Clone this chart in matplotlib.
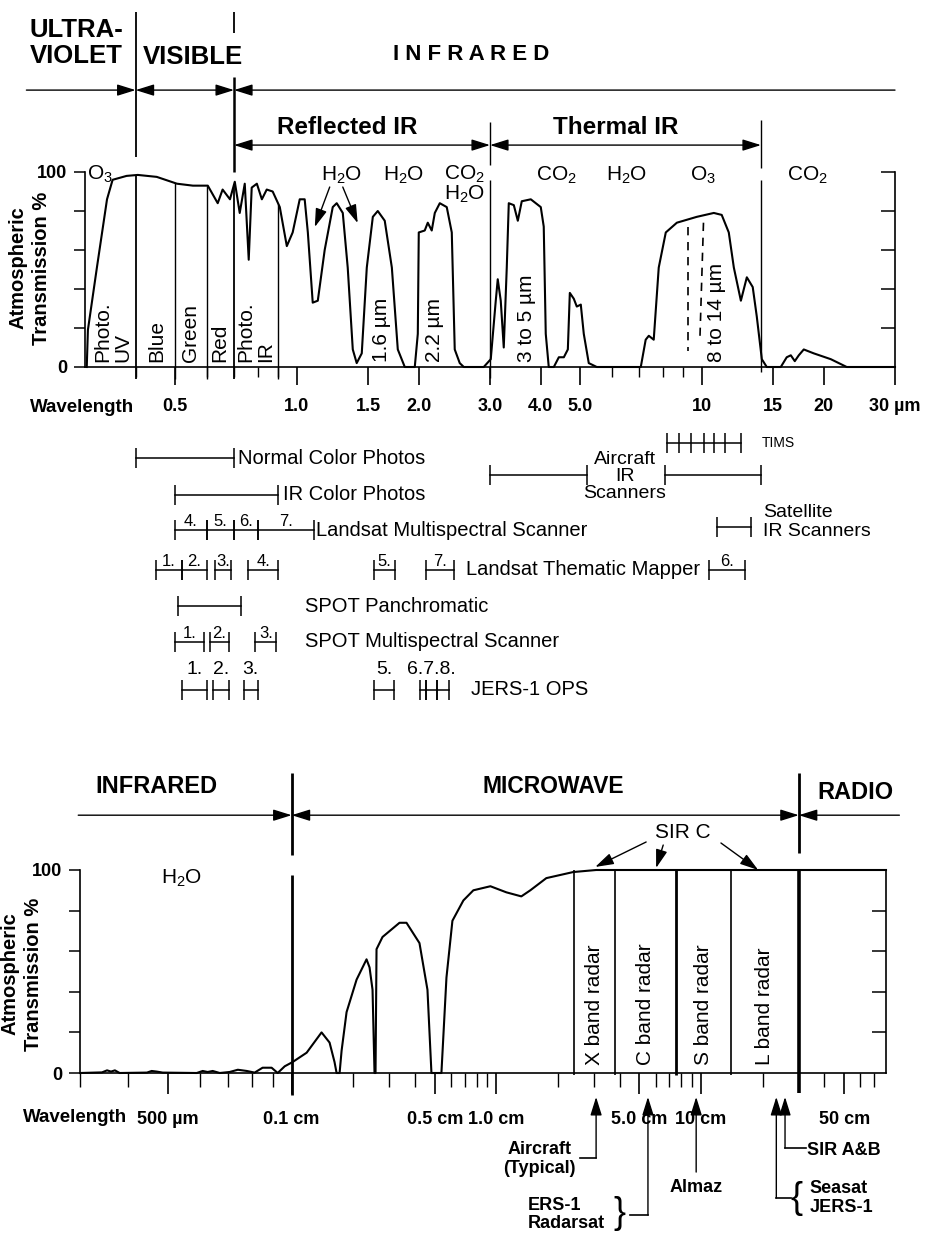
import matplotlib.pyplot as plt
import numpy as np
from matplotlib.ticker import NullFormatter

plt.rcParams['font.family'] = ['Liberation Sans', 'DejaVu Sans']
plt.rcParams['mathtext.fontset'] = 'custom'
plt.rcParams['mathtext.rm'] = 'Liberation Sans'
plt.rcParams['mathtext.it'] = 'Liberation Sans:italic'
plt.rcParams['mathtext.bf'] = 'Liberation Sans:bold'
plt.rcParams['axes.linewidth'] = 1.2

# ---- top panel: transmission curve, wavelength in micrometres
top_wl = [0.303, 0.305, 0.321, 0.340, 0.351, 0.380, 0.405, 0.451, 0.506, 0.554,
          0.603, 0.638, 0.656, 0.684, 0.703, 0.723, 0.744, 0.761, 0.774, 0.797,
          0.820, 0.843, 0.872, 0.908, 0.945, 0.977, 1.017, 1.046, 1.065, 1.095,
          1.127, 1.172, 1.227, 1.255, 1.299, 1.336, 1.375, 1.406, 1.447, 1.489,
          1.541, 1.585, 1.649, 1.717, 1.776, 1.848, 1.956, 1.990, 2.001, 2.070,
          2.106, 2.154, 2.192, 2.255, 2.346, 2.414, 2.455, 2.526, 2.585, 2.895,
          3.013, 3.100, 3.135, 3.189, 3.244, 3.300, 3.338, 3.435, 3.514, 3.594,
          3.783, 4.004, 4.072, 4.119, 4.190, 4.312, 4.437, 4.565, 4.670, 4.723,
          4.831, 4.914, 5.027, 5.113, 5.260, 5.505, 7.07, 7.27, 7.40, 7.61,
          7.83, 8.15, 8.68, 9.72, 10.71, 11.20, 11.66, 12.00, 12.49, 12.92,
          13.36, 13.67, 14.07, 14.47, 15.67, 16.21, 16.59, 16.97, 17.36, 17.86,
          18.90, 20.83, 22.80, 25.1, 30.0]
top_trans = [0, 19, 51, 86, 96, 98, 98.5, 97.5, 94, 93,
             93, 84, 91, 86, 95, 79, 94, 55, 92, 94,
             86, 91, 90, 82, 62, 69, 86, 86, 69, 33,
             34, 60, 82, 84, 79, 51, 9, 2, 7, 51,
             77, 80, 75, 51, 9, 0, 0, 17, 69, 70,
             74, 70, 79, 84, 82, 69, 9, 2, 0, 0,
             4, 34, 45, 34, 10, 51, 84, 83, 75, 85,
             86, 82, 72, 17, 0, 0, 5, 5, 9, 38,
             35, 31, 32, 17, 2, 0, 0, 14, 16, 14,
             51, 69, 74, 77, 79, 78, 69, 51, 34, 46,
             41, 26, 4, 0, 0, 5, 6, 3, 6, 9,
             7, 4, 0, 0, 0]

# ---- bottom panel: transmission curve, wavelength in cm
bot_cm = [0.0306, 0.0346, 0.0356, 0.0364, 0.0372, 0.0382, 0.0445, 0.0457, 0.0470, 0.0486,
          0.0588, 0.0608, 0.0625, 0.0643, 0.0669, 0.0707, 0.0740, 0.0778, 0.0813, 0.0850,
          0.0894, 0.0925, 0.0962, 0.1011, 0.1184, 0.140, 0.1532, 0.162, 0.1658, 0.1715,
          0.1754, 0.1855, 0.2076, 0.2322, 0.2402, 0.2484, 0.254, 0.2569, 0.2598, 0.2779,
          0.3364, 0.3639, 0.4211, 0.4607, 0.4818, 0.539, 0.5704, 0.610, 0.690, 0.772,
          0.935, 1.119, 1.324, 1.465, 1.754, 2.375, 3.074, 80]
bot_trans = [0, 0.3, 1.3, 0.7, 1.3, 0, 0.2, 1.0, 0.7, 0.2,
             0, 1.0, 0.5, 1.0, 0, 0.5, 1.6, 1.0, 0.2, 2.6,
             2.6, 0, 3.3, 5.4, 10, 20, 15, 5.4, 0, 0,
             11, 30, 46, 56, 52, 41, 0, 0, 61, 67,
             74, 74, 64, 41, 0, 0, 47, 75, 85, 90,
             92, 89, 87, 90, 96, 99, 100, 100]

# ---- top panel labels
top_major = [0.5, 1.0, 1.5, 2.0, 3.0, 4.0, 5.0, 10, 15, 20, 30]
top_major_labels = ['0.5', '1.0', '1.5', '2.0', '3.0', '4.0', '5.0', '10', '15', '20', '30 µm']
top_minor = [0.4, 0.6, 0.7, 0.8, 0.9, 6, 7, 8, 9]
y_ticks = [0, 20, 40, 60, 80, 100]
y_labels = ['0', '', '', '', '', '100']

visible_edges = [0.4, 0.5, 0.6, 0.7, 0.9]
visible_names = ['Photo.\nUV', 'Blue', 'Green', 'Red', 'Photo.\nIR']
visible_name_wl = [0.351, 0.45, 0.545, 0.645, 0.79]
window_names = ['1.6 µm', '2.2 µm', '3 to 5 µm', '8 to 14 µm']
window_wl = [1.62, 2.19, 3.7, 10.9]
gas_names = ['H$_2$O', 'H$_2$O', 'CO$_2$\nH$_2$O', 'CO$_2$', 'H$_2$O', 'O$_3$', 'CO$_2$']
gas_wl = [1.29, 1.84, 2.6, 4.38, 6.54, 10.06, 18.2]
dashed_wl = [9.23, 9.9]

# ---- sensors under the top panel
sensor_names = ['Normal Color Photos', 'IR Color Photos', 'Landsat Multispectral Scanner',
                'Landsat Thematic Mapper', 'SPOT Panchromatic', 'SPOT Multispectral Scanner',
                'JERS-1 OPS']
sensor_bands = [[(0.4, 0.7)],
                [(0.5, 0.9)],
                [(0.5, 0.6), (0.6, 0.7), (0.7, 0.8), (0.8, 1.1)],
                [(0.45, 0.52), (0.52, 0.60), (0.63, 0.69), (0.76, 0.90), (1.55, 1.75),
                 (2.08, 2.45), (10.4, 12.8)],
                [(0.51, 0.73)],
                [(0.50, 0.59), (0.61, 0.68), (0.79, 0.89)],
                [(0.52, 0.60), (0.62, 0.68), (0.74, 0.80), (1.55, 1.74), (2.01, 2.09),
                 (2.09, 2.22), (2.22, 2.37)]]
sensor_ids = [[''], [''], ['4.', '5.', '6.', '7.'], ['1.', '2.', '3.', '4.', '5.', '7.', '6.'],
              [''], ['1.', '2.', '3.'], ['1.', '2.', '3.', '5.', '', '6.7.8.', '']]
tims_edges = [8.2, 8.8, 9.4, 10.1, 10.7, 11.4, 12.5]
aircraft_ir_bands = [(3.0, 5.2), (8.1, 14.0)]
satellite_ir_band = (10.9, 13.2)

# ---- bottom panel labels
bot_major = [0.05, 0.1, 0.5, 1.0, 5.0, 10, 50]
bot_major_labels = ['500 µm', '0.1 cm', '0.5 cm', '1.0 cm', '5.0 cm', '10 cm', '50 cm']
bot_minor = [0.0306, 0.04, 0.06, 0.07, 0.08, 0.09, 0.2, 0.3, 0.4, 0.6, 0.7, 0.8, 0.9,
             2, 3, 4, 6, 7, 8, 9, 20, 40, 60, 70]
radar_edges = [2.4, 3.8, 7.5, 14, 30]
radar_names = ['X band radar', 'C band radar', 'S band radar', 'L band radar']
sir_c_cm = [3.04, 6.03, 19.0]
radar_systems = ['Aircraft\n(Typical)', 'ERS-1\nRadarsat', 'Almaz', 'Seasat\nJERS-1', 'SIR A&B']
radar_system_cm = [3.07, 5.5, 9.46, 23.3, 25.7]

SUBMM_STRETCH = 2.01  # the sub-mm part of the lower axis is drawn at twice the scale

W, H = 928, 1234
fig = plt.figure(figsize=(W / 100, H / 100), dpi=100)


def px_axes(left, top, right, bottom):
    return fig.add_axes([left / W, 1 - bottom / H, (right - left) / W, (bottom - top) / H])


def vseg(ax, x, y0, y1, lw=1.3):
    ax.plot([x, x], [y0, y1], color='k', lw=lw, clip_on=False, solid_capstyle='butt')


def arrow(ax, x0, y0, x1, y1, style='-|>'):
    ax.annotate('', xy=(x1, y1), xytext=(x0, y0), annotation_clip=False,
                arrowprops=dict(arrowstyle=style + ',head_length=0.8,head_width=0.25',
                                color='k', lw=1.0, shrinkA=0, shrinkB=0, mutation_scale=14))


def span(ax, lo, hi, y, h=5.0):
    ax.plot([lo, hi], [y, y], color='k', lw=1.1, clip_on=False)
    ax.vlines([lo, hi], y - h, y + h, color='k', lw=1.1, clip_on=False)


def style_axes(ax, labelpad):
    ax.set_ylim(0, 100)
    ax.spines['top'].set_visible(False)
    ax.spines['right'].set_visible(False)
    ax.set_yticks(y_ticks, y_labels)
    ax.tick_params(axis='y', length=8, width=1.1, pad=5, labelsize=13)
    ax.tick_params(axis='x', which='major', length=13, width=1.2, pad=labelpad, labelsize=13)
    ax.tick_params(axis='x', which='minor', length=7, width=1.0)
    ax.xaxis.set_minor_formatter(NullFormatter())
    for t in ax.get_xticklabels() + ax.get_yticklabels():
        t.set_fontweight('bold')
    sec = ax.secondary_yaxis('right')
    sec.set_yticks(y_ticks[1:])
    sec.tick_params(direction='in', length=10, width=1.1, labelright=False)
    sec.spines['right'].set_linewidth(1.2)


# ================= top panel =================
ax1 = px_axes(85, 172, 895, 367)
ax1.set_xscale('log')
ax1.set_xlim(0.3, 30)
ax1.plot(top_wl, top_trans, color='k', lw=1.5, clip_on=False)
ax1.set_xticks(top_major, top_major_labels)
ax1.set_xticks(top_minor, minor=True)
style_axes(ax1, 9)


def curve_at(wl):
    return np.interp(np.log10(wl), np.log10(top_wl), top_trans)


# region dividers
vseg(ax1, 0.4, 182, 107.7)
vseg(ax1, 0.7, 182, 171.3)
vseg(ax1, 0.7, 148.7, 100, lw=1.8)
for x in visible_edges:
    vseg(ax1, x, curve_at(x), -6, lw=1.3 if x in (0.4, 0.7) else 1.0)
vseg(ax1, 3.0, 125.6, 103.6, lw=1.0)
vseg(ax1, 3.0, 96, -5.6, lw=1.0)
vseg(ax1, 14, 126.7, 102, lw=1.0)
vseg(ax1, 14, 96, -2.6, lw=1.0)

arrow(ax1, 0.215, 142, 0.4, 142)
arrow(ax1, 0.4, 142, 0.7, 142, '<|-|>')
arrow(ax1, 0.7, 142, 30, 142, '<|-')
arrow(ax1, 0.7, 113.8, 3.0, 113.8, '<|-|>')
arrow(ax1, 3.0, 113.8, 14, 113.8, '<|-|>')

ax1.text(0.219, 166, 'ULTRA-\nVIOLET', ha='left', va='center', fontsize=18.5,
         fontweight='bold', linespacing=1.1)
ax1.text(0.417, 159, 'VISIBLE', ha='left', va='center', fontsize=18.5, fontweight='bold')
ax1.text(2.69, 160, 'I N F R A R E D', ha='center', va='center', fontsize=16, fontweight='bold')
ax1.text(1.33, 123, 'Reflected IR', ha='center', va='center', fontsize=17.5, fontweight='bold')
ax1.text(6.14, 123, 'Thermal IR', ha='center', va='center', fontsize=17.5, fontweight='bold')

ax1.text(0.304, 99, 'O$_3$', ha='left', va='center', fontsize=15)
for name, x in zip(gas_names, gas_wl):
    if '\n' in name:
        ax1.text(x, 104.5, name, ha='center', va='top', fontsize=15, linespacing=0.95)
    else:
        ax1.text(x, 98.5, name, ha='center', va='center', fontsize=15)
arrow(ax1, 1.206, 92.3, 1.108, 71.8)
arrow(ax1, 1.299, 92.3, 1.414, 73.8)

for name, x in zip(visible_names, visible_name_wl):
    ax1.text(x, 2.5, name, rotation=90, ha='center', va='bottom', fontsize=15,
             multialignment='left', linespacing=1.05)
for name, x in zip(window_names, window_wl):
    ax1.text(x, 2.5, name, rotation=90, ha='center', va='bottom', fontsize=15)
ax1.plot([dashed_wl[0]] * 2, [71.8, 8], color='k', lw=1.2, ls=(0, (5, 4)))
ax1.plot([dashed_wl[1] * 1.02, dashed_wl[1]], [74, 16], color='k', lw=1.2, ls=(0, (5, 4)))

ax1.text(0.219, -21, 'Wavelength', ha='left', va='center', fontsize=13.5, fontweight='bold')

# sensors
sensor_y = [-46.7, -65.6, -83.6, -104, -122.6, -141, -165.6]
sensor_label_wl = [0.715, 0.924, 1.114, 2.61, 1.046, 1.046, 2.70]
for i, (name, bands, ids) in enumerate(zip(sensor_names, sensor_bands, sensor_ids)):
    y = sensor_y[i]
    last = i == len(sensor_names) - 1
    for (lo, hi), bid in zip(bands, ids):
        span(ax1, lo, hi, y)
        if bid:
            ax1.text(np.sqrt(lo * hi), y + (6 if last else 0.5), bid, ha='center',
                     va='bottom', fontsize=14 if last else 12)
    ax1.text(sensor_label_wl[i], y, name, ha='left', va='center', fontsize=14.5)

ax1.plot([tims_edges[0], tims_edges[-1]], [-39, -39], color='k', lw=1.1, clip_on=False)
ax1.vlines(tims_edges, -44, -34, color='k', lw=1.1, clip_on=False)
ax1.text(14.1, -39, 'TIMS', ha='left', va='center', fontsize=10)
for lo, hi in aircraft_ir_bands:
    span(ax1, lo, hi, -55.4)
ax1.text(6.46, -56.4, 'Aircraft\nIR\nScanners', ha='center', va='center', fontsize=14,
         linespacing=1.0)
span(ax1, satellite_ir_band[0], satellite_ir_band[1], -82)
ax1.text(14.2, -79.5, 'Satellite\nIR Scanners', ha='left', va='center', fontsize=14,
         linespacing=1.1)

fig.text(30 / W, 1 - 268 / H, 'Atmospheric\nTransmission %', rotation=90, ha='center',
         va='center', fontsize=14.5, fontweight='bold', linespacing=1.3)


# ================= bottom panel =================
def _fwd(x):
    d = np.log10(np.clip(np.asarray(x, float), 1e-6, None) / 0.1)
    return np.where(d < 0, d * SUBMM_STRETCH, d)


def _inv(d):
    d = np.asarray(d, float)
    return 0.1 * 10 ** np.where(d < 0, d / SUBMM_STRETCH, d)


ax2 = px_axes(80, 870, 886, 1073)
ax2.set_xscale('function', functions=(_fwd, _inv))
ax2.set_xlim(0.0306, 80)
ax2.plot(bot_cm, bot_trans, color='k', lw=1.5, clip_on=False)
ax2.set_xticks(bot_major, bot_major_labels)
ax2.set_xticks(bot_minor, minor=True)
style_axes(ax2, 12)
ax2.tick_params(axis='x', which='major', length=15)
ax2.tick_params(axis='x', which='minor', length=10)

vseg(ax2, 0.1, 148, 107.4, lw=2.0)
vseg(ax2, 0.1, 97.5, -10.8, lw=2.0)
vseg(ax2, 30, 147.8, 108.4, lw=2.0)
arrow(ax2, 0.0303, 127, 0.1, 127)
arrow(ax2, 0.1, 127, 30, 127, '<|-|>')
arrow(ax2, 30, 127, 93, 127, '<|-')
ax2.text(0.047, 141, 'INFRARED', ha='center', va='center', fontsize=17, fontweight='bold')
ax2.text(1.9, 141, 'MICROWAVE', ha='center', va='center', fontsize=16.5, fontweight='bold')
ax2.text(57, 138.4, 'RADIO', ha='center', va='center', fontsize=17, fontweight='bold')
ax2.text(0.054, 96, 'H$_2$O', ha='center', va='center', fontsize=15)

for i, x in enumerate(radar_edges):
    if x == 30:
        vseg(ax2, x, 100, -9.9, lw=2.6)
    else:
        vseg(ax2, x, 100, -1, lw=2.0 if x == 7.5 else 1.2)
for i, name in enumerate(radar_names):
    x = np.sqrt(radar_edges[i] * radar_edges[i + 1])
    ax2.text(x, 4, name, rotation=90, ha='center', va='bottom', fontsize=15)

ax2.text(8.17, 118.7, 'SIR C', ha='center', va='center', fontsize=15)
arrow(ax2, 5.39, 113.8, sir_c_cm[0], 101.5)
arrow(ax2, 6.53, 112.3, sir_c_cm[1], 101)
arrow(ax2, 12.5, 113.3, sir_c_cm[2], 100)

# radar systems below the axis
tip = -11.8
ac, ers, almaz, seasat, sirab = radar_system_cm
arrow(ax2, ac, -41.9, ac, tip)
ax2.plot([ac, 2.57], [-41.9, -41.9], color='k', lw=1.2, clip_on=False)
ax2.text(2.45, -42.4, radar_systems[0], ha='right', va='center', fontsize=13,
         fontweight='bold', multialignment='center', linespacing=1.1)
arrow(ax2, ers, -70, ers, tip)
ax2.plot([ers, 4.5], [-70, -70], color='k', lw=1.2, clip_on=False)
ax2.text(4.0, -69, '}', ha='center', va='center', fontsize=26)
ax2.text(1.43, -69.7, radar_systems[1], ha='left', va='center', fontsize=13,
         fontweight='bold', linespacing=1.1)
arrow(ax2, almaz, -48.8, almaz, tip)
ax2.text(almaz, -56.2, radar_systems[2], ha='center', va='center', fontsize=13,
         fontweight='bold')
arrow(ax2, seasat, -61.6, seasat, tip)
ax2.plot([seasat, 27.5], [-61.6, -61.6], color='k', lw=1.2, clip_on=False)
ax2.text(29.2, -61.6, '{', ha='center', va='center', fontsize=26)
ax2.text(34, -61.6, radar_systems[3], ha='left', va='center', fontsize=13,
         fontweight='bold', linespacing=1.1)
arrow(ax2, sirab, -37, sirab, tip)
ax2.plot([sirab, 32.4], [-37, -37], color='k', lw=1.2, clip_on=False)
ax2.text(33, -38, radar_systems[4], ha='left', va='center', fontsize=13, fontweight='bold')

ax2.text(0.0222, -22, 'Wavelength', ha='left', va='center', fontsize=13.5, fontweight='bold')
fig.text(22 / W, 1 - 974 / H, 'Atmospheric\nTransmission %', rotation=90, ha='center',
         va='center', fontsize=14.5, fontweight='bold', linespacing=1.3)

fig.savefig('out.png', dpi=100)
